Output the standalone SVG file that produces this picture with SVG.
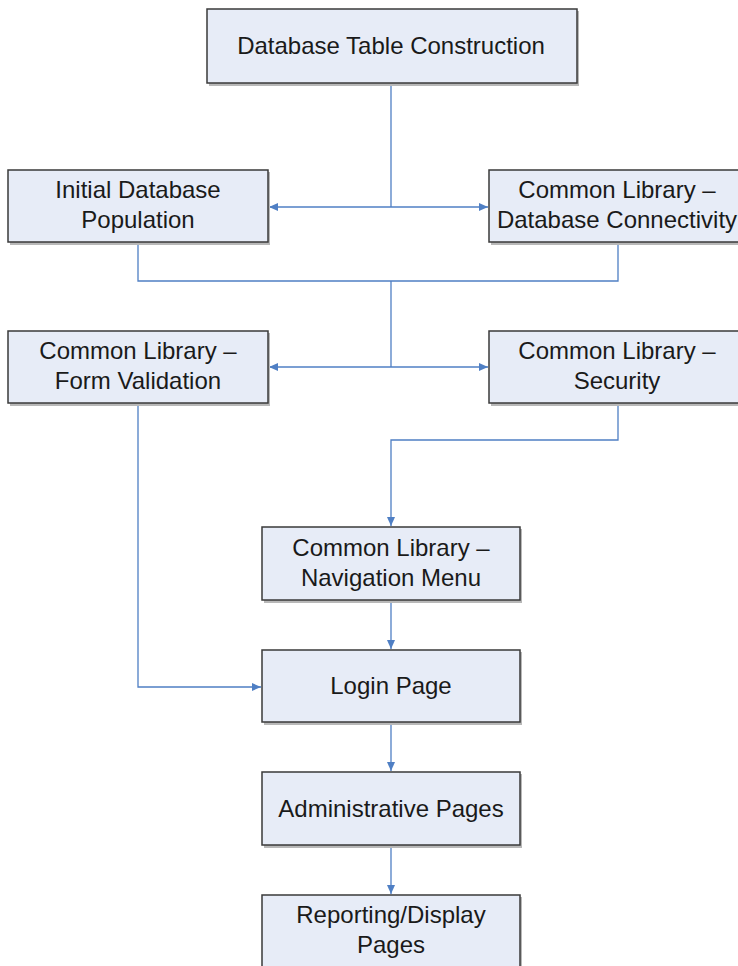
<svg xmlns="http://www.w3.org/2000/svg" width="738" height="966" viewBox="0 0 738 966">
<style>
.box{fill:#E7ECF7;stroke:#3A3A3A;stroke-width:1.5}
.sh{fill:#B8B8B8}
.t{font-family:"Liberation Sans",Arial,sans-serif;font-size:24px;fill:#1A1A1A;text-anchor:middle}
.c{fill:none;stroke:#4F7FC4;stroke-width:1.3}
</style>
<defs>
<marker id="ah" markerWidth="10" markerHeight="10" refX="9" refY="5" orient="auto" markerUnits="userSpaceOnUse">
<path d="M0,1 L9,5 L0,9 Z" fill="#4F7FC4"/>
</marker>
</defs>
<rect width="738" height="966" fill="#FFFFFF"/>
<g id="connectors">
<path class="c" d="M391,83 V207"/>
<path class="c" d="M391,207 H269" marker-end="url(#ah)"/>
<path class="c" d="M391,207 H488" marker-end="url(#ah)"/>
<path class="c" d="M138,242 V281 H618 V242"/>
<path class="c" d="M391,281 V367"/>
<path class="c" d="M391,367 H269" marker-end="url(#ah)"/>
<path class="c" d="M391,367 H488" marker-end="url(#ah)"/>
<path class="c" d="M138,403 V687 H261" marker-end="url(#ah)"/>
<path class="c" d="M618,403 V440 H391 V526" marker-end="url(#ah)"/>
<path class="c" d="M391,600 V649" marker-end="url(#ah)"/>
<path class="c" d="M391,722 V771" marker-end="url(#ah)"/>
<path class="c" d="M391,845 V894" marker-end="url(#ah)"/>
</g>
<g id="n1">
<rect class="sh" x="209" y="11" width="370" height="75"/>
<rect class="box" x="207" y="9" width="370" height="74"/>
<text class="t" x="391" y="54">Database Table Construction</text>
</g>
<g id="n2">
<rect class="sh" x="10" y="172" width="260" height="73"/>
<rect class="box" x="8" y="170" width="260" height="72"/>
<text class="t" x="138" y="198">Initial Database</text>
<text class="t" x="138" y="228">Population</text>
</g>
<g id="n3">
<rect class="sh" x="491" y="172" width="260" height="73"/>
<rect class="box" x="489" y="170" width="260" height="72"/>
<text class="t" x="617" y="198">Common Library –</text>
<text class="t" x="617" y="228">Database Connectivity</text>
</g>
<g id="n4">
<rect class="sh" x="10" y="333" width="260" height="73"/>
<rect class="box" x="8" y="331" width="260" height="72"/>
<text class="t" x="138" y="359">Common Library –</text>
<text class="t" x="138" y="389">Form Validation</text>
</g>
<g id="n5">
<rect class="sh" x="491" y="333" width="260" height="73"/>
<rect class="box" x="489" y="331" width="260" height="72"/>
<text class="t" x="617" y="359">Common Library –</text>
<text class="t" x="617" y="389">Security</text>
</g>
<g id="n6">
<rect class="sh" x="264" y="529" width="258" height="74"/>
<rect class="box" x="262" y="527" width="258" height="73"/>
<text class="t" x="391" y="556">Common Library –</text>
<text class="t" x="391" y="586">Navigation Menu</text>
</g>
<g id="n7">
<rect class="sh" x="264" y="652" width="258" height="73"/>
<rect class="box" x="262" y="650" width="258" height="72"/>
<text class="t" x="391" y="694">Login Page</text>
</g>
<g id="n8">
<rect class="sh" x="264" y="774" width="258" height="74"/>
<rect class="box" x="262" y="772" width="258" height="73"/>
<text class="t" x="391" y="817">Administrative Pages</text>
</g>
<g id="n9">
<rect class="sh" x="264" y="897" width="258" height="80"/>
<rect class="box" x="262" y="895" width="258" height="80"/>
<text class="t" x="391" y="923">Reporting/Display</text>
<text class="t" x="391" y="953">Pages</text>
</g>
</svg>
